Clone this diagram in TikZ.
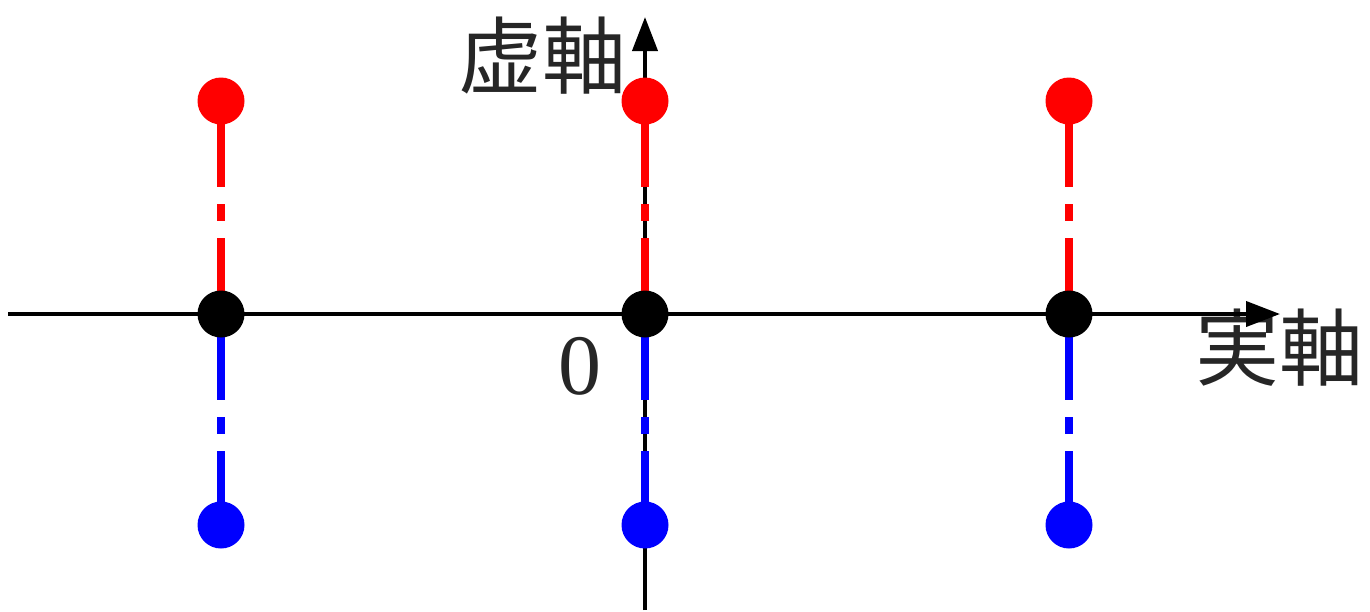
\documentclass[tikz,border=0pt]{standalone}
\usepackage{fontspec}
\setmainfont{Liberation Serif}
\newfontfamily\cjk{Noto Sans CJK JP}
\usetikzlibrary{arrows.meta}
\tikzset{
  axis/.style={line width=4pt, -{Triangle[length=34pt,width=25pt]}},
  dot/.style={circle, fill=#1, draw=none, minimum size=47pt, inner sep=0pt},
  stem/.style={line width=8pt, draw=#1, dash pattern=on 86pt off 17pt on 17pt off 17pt on 300pt},
  lbl/.style={inner sep=0pt, text=black!85}
}
\begin{document}
\begin{tikzpicture}[x=1pt,y=-1pt]
\useasboundingbox (0,0) rectangle (1370,611);
\coordinate (hs) at (8,314);
\coordinate (he) at (1280,314);
\coordinate (vs) at (645,610);
\coordinate (ve) at (645,17);
% labels
\node[lbl, font=\cjk\fontsize{84}{84}\selectfont] (im) at (542,56) {虚軸};
\node[lbl, font=\cjk\fontsize{84}{84}\selectfont] (re) at (1279,348) {実軸};
\node[lbl, font=\fontsize{86}{86}\selectfont] (zero) at (580,366) {0};
% axes
\draw[axis] (hs) -- (he);
\draw[axis] (vs) -- (ve);
% dots positions
\foreach \i/\x in {1/221,2/645,3/1069}{
  \coordinate (r\i) at (\x,101);
  \coordinate (k\i) at (\x,314);
  \coordinate (b\i) at (\x,525);
}
\foreach \i in {1,2,3}{
  \draw[stem=red] (r\i) -- (k\i);
  \draw[stem=blue] (k\i) -- (b\i);
}
\foreach \i in {1,2,3}{
  \node[dot=red] (R\i) at (r\i) {};
  \node[dot=black] (K\i) at (k\i) {};
  \node[dot=blue] (B\i) at (b\i) {};
}
\end{tikzpicture}
\end{document}
